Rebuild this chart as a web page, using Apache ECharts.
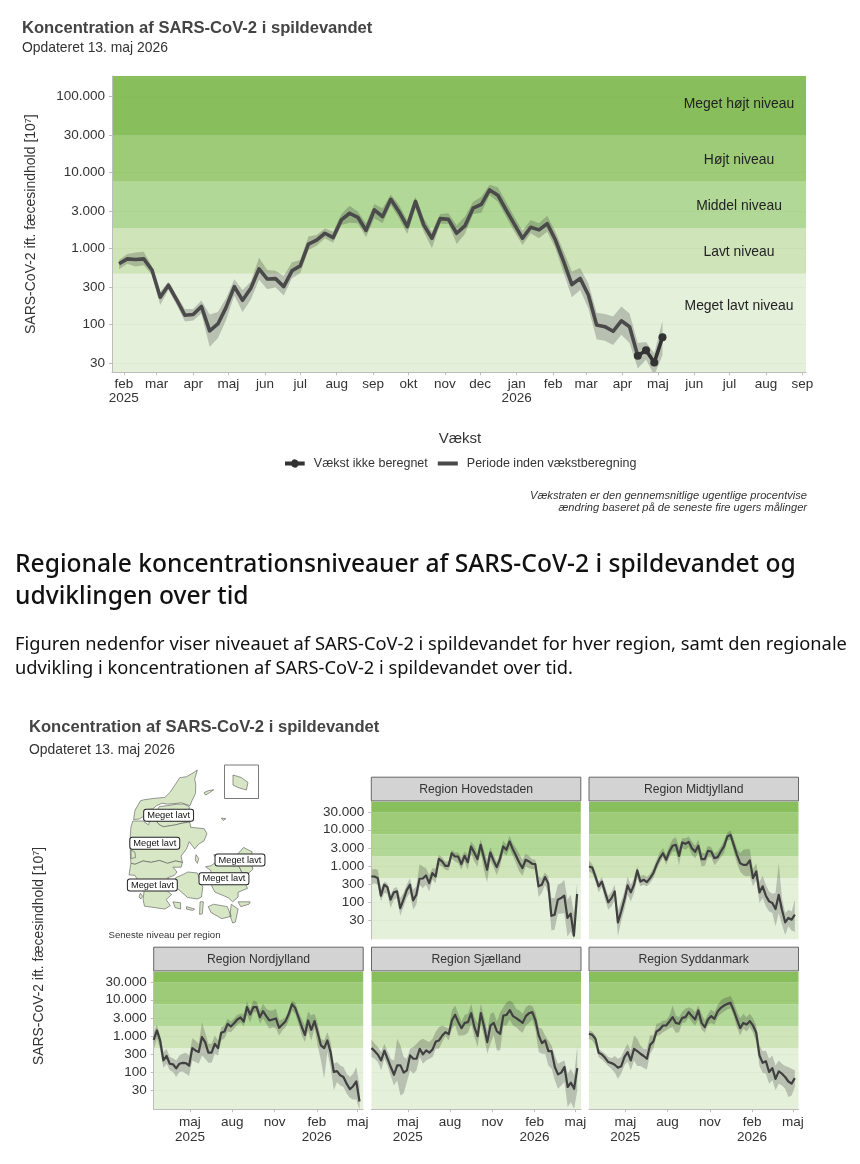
<!DOCTYPE html>
<html><head><meta charset="utf-8">
<style>html,body{margin:0;padding:0;background:#fff}#c{width:860px;height:1164px}</style>
<script src="https://cdn.jsdelivr.net/npm/echarts@6/dist/echarts.min.js"></script>
</head><body><div id="c"></div>
<script>
// ---------- data ----------
const monthNames = ['jan','feb','mar','apr','maj','jun','jul','aug','sep','okt','nov','dec'];
const yTicksMain = [30,100,300,1000,3000,10000,30000,100000];
const yTicksRegion = [30,100,300,1000,3000,10000,30000];
const bandLimits = [459,1830,7450,30000];
const levelNames = ['Meget lavt niveau','Lavt niveau','Middel niveau','Højt niveau','Meget højt niveau'];
const mainMonthTicks = ['2025-02-01','2025-03-01','2025-04-01','2025-05-01','2025-06-01','2025-07-01','2025-08-01','2025-09-01','2025-10-01','2025-11-01','2025-12-01','2026-01-01','2026-02-01','2026-03-01','2026-04-01','2026-05-01','2026-06-01','2026-07-01','2026-08-01','2026-09-01'];
const mainYearTicks = ['2025-02-01','2026-01-01'];
const regionMonthTicks = ['2025-05-01','2025-08-01','2025-11-01','2026-02-01','2026-05-01'];
const regionYearTicks = ['2025-05-01','2026-02-01'];

const mainValues = [620,718,703,718,512,225,323,208,130,133,170,81,100,165,310,205,295,530,390,395,310,500,580,1120,1270,1560,1370,2340,2860,2530,1700,3160,2580,4370,3000,1910,4100,2010,1340,2430,2380,1560,1950,3330,3750,5800,4950,3160,2060,1340,1870,1730,2090,1270,660,330,398,240,97,92,80,110,92,38,45,31,67];
const mainHigh = [696,835,870,890,570,265,360,236,157,157,204,133,144,218,387,280,360,745,512,500,426,650,696,1410,1480,1815,1635,2800,3600,3000,2110,3800,3330,5050,3680,2340,4700,2450,1635,2800,2860,1985,2580,4060,4700,6780,6310,4060,2580,1680,2340,2110,2660,1635,900,490,545,340,140,135,125,170,137,56,58,41,110];
const mainLow = [525,620,570,590,440,178,280,178,108,111,137,50,65,113,236,144,208,380,286,304,236,398,465,940,1070,1340,1170,2010,2150,2110,1380,2450,2110,3680,2450,1530,3330,1635,990,2080,2080,1130,1530,2800,2900,4950,4060,2580,1635,1090,1560,1340,1635,990,465,225,280,160,63,60,53,72,56,26,34,21,39];

const hovedValues = [505,505,455,148,298,257,115,183,195,67,115,208,298,110,157,437,445,540,330,625,505,1560,1320,1000,1000,2230,1810,1810,1110,1890,1260,3440,2340,1530,3820,1700,775,2340,1410,920,1530,3440,2770,4730,2900,1890,1240,860,1470,1320,1140,1110,270,298,486,330,41,44,115,127,148,36,47,11.5,165];
const hovedHigh = [775,810,775,240,365,330,157,240,257,127,175,298,455,217,270,1110,960,860,560,860,860,2010,1740,1320,1320,2770,2340,2340,1740,2490,2010,4730,3590,2230,5480,2770,1470,3290,2010,1320,2230,5040,3820,6780,4240,3080,2150,1470,2150,1890,1530,1470,505,455,655,505,127,127,298,330,410,115,157,49,330];
const hovedLow = [298,330,298,103,175,168,67,115,127,41,72,127,175,60,83,298,240,298,195,410,330,1060,960,775,743,1630,1320,1180,775,1320,775,2230,1320,960,2340,775,345,1410,920,560,960,2340,1890,3080,1890,1180,695,530,960,860,810,775,136,175,298,168,16,17,47,47,49,11,15,9.3,75];

const midtValues = [960,900,505,270,365,183,97,127,195,27,54,115,286,183,298,743,365,410,353,455,625,1060,1630,2230,1470,2490,3590,3820,1890,4440,4070,4620,3080,2440,3590,1530,1530,2610,2490,1630,1740,2490,3440,6480,7200,3820,2010,1180,1060,1060,1410,455,695,183,270,148,103,93,63,157,60,27,36,32,44];
const midtHigh = [1410,1110,695,365,486,270,148,195,298,54,103,195,505,298,455,960,530,560,486,600,860,1470,2340,3080,2010,3590,5480,6220,3290,5840,5840,6480,4730,3590,5260,2340,2230,3590,3290,2230,2490,3440,5040,8400,9500,5840,3080,2230,2770,2900,2900,810,1180,365,530,298,195,168,175,1180,127,49,60,54,115];
const midtLow = [695,625,365,183,257,115,60,75,110,11.5,29,60,157,103,175,455,270,298,270,330,455,775,1180,1740,1060,1740,2490,2490,1060,3080,2770,3290,2010,1630,2340,960,1000,1740,1740,1060,1320,1740,2230,5040,5260,2490,1180,695,560,505,530,270,410,93,127,75,54,49,21,49,23,12,21,16,14.6];

const nordValues = [775,1410,743,208,275,168,162,125,168,178,175,148,455,393,353,920,668,340,340,600,455,1210,1320,2150,1810,2230,2840,3220,2490,6220,3900,6220,6220,3290,4830,3520,2660,2840,3020,1670,2060,2550,4070,7540,5960,3290,1810,1060,2660,1470,2550,1210,540,455,743,353,99,105,80,72,47,33,40,54,15];
const nordHigh = [1210,2010,1020,353,437,257,240,208,286,318,340,286,860,743,600,2390,1260,600,600,1020,743,1740,1930,2960,2490,3080,3820,4070,4070,8900,5600,9500,8900,5040,7690,5600,5040,5040,5600,2660,2840,3290,5370,9500,8200,4730,2960,1930,4730,3660,4070,2150,826,743,1260,668,168,187,151,136,89,72,89,136,42];
const nordLow = [420,826,420,127,168,110,99,72,99,103,89,77,208,187,168,286,231,178,178,318,286,743,860,1320,1260,1560,2010,2340,1850,3820,2340,4530,4530,2150,3080,2150,1560,1740,1630,1020,1410,1740,2660,5040,4070,2150,1060,668,1410,743,1560,540,208,64,353,136,31,52,42,38,25,19,17,17,8.6];

const sjaelValues = [455,375,298,208,385,231,136,83,151,151,95,110,286,231,231,437,305,393,340,420,695,743,1020,1260,1110,2660,3820,2390,1630,2280,2390,4240,1740,980,4240,1810,668,1930,2280,1320,1140,3660,3820,5150,3520,3080,2660,2280,3520,4240,4530,2660,1020,625,743,375,375,136,85,95,136,38,50,34,127];
const sjaelHigh = [790,600,486,353,600,375,231,208,826,540,257,231,437,486,600,743,826,743,668,826,1320,1740,1930,1740,1630,5040,6920,4070,2490,3820,4070,7690,3290,2150,7690,3290,1410,4070,4530,2490,4530,6220,8550,9500,8200,5600,5040,4070,6220,7100,6630,4530,1740,1560,1020,743,540,286,168,187,208,89,122,80,540];
const sjaelLow = [257,231,187,110,231,145,77,42,58,22,25,52,110,89,110,257,168,208,231,257,437,437,668,980,743,1560,2010,1020,1020,1060,1210,2150,920,486,2150,920,318,600,1060,393,393,1930,1930,2840,1930,1740,1410,1210,1930,2280,2840,1410,353,318,318,151,122,58,34,42,52,10.6,14.6,9.5,31];

const syddValues = [1140,1060,826,340,305,245,187,175,157,130,142,257,353,208,437,375,318,275,231,560,695,1320,1500,1930,1930,2490,3290,2280,2150,3150,3290,4530,3520,2840,5040,2280,1740,2840,3520,2960,4730,5960,6920,7690,8200,5040,2840,1630,2280,2060,2550,1930,1210,286,178,198,99,127,64,103,89,72,54,47,67];
const syddHigh = [1410,1320,1020,437,375,318,257,240,275,231,257,420,600,393,1020,826,540,437,437,1020,1020,2150,2280,2660,2660,3660,6920,3660,3290,4730,5600,6220,5600,4530,6920,4070,2660,4070,5370,4530,7100,9500,11100,11800,12700,8550,4730,3080,4070,3290,4070,3080,1930,540,375,393,231,286,151,208,168,145,136,122,110];
const syddLow = [826,743,540,257,220,178,145,122,95,64,89,151,195,110,208,145,145,127,117,318,437,980,1060,1260,1410,1630,1740,1210,1260,2280,2390,3290,2390,1930,2840,1500,1210,2010,2280,2010,3290,4070,4730,5370,5840,3520,1740,1020,1560,1320,1740,1210,668,145,95,89,47,58,31,47,42,34,20,22,38];

const regionNames = ['Region Hovedstaden','Region Midtjylland','Region Nordjylland','Region Sjælland','Region Syddanmark'];
const mapLevelLabel = 'Meget lavt';
const mapLabelPoints = [[9.54,56.80],[9.03,56.22],[12.17,55.87],[11.58,55.48],[8.94,55.35]];

// simplified outlines of the regions, lon/lat
const nordjyllandShape = [
 [[10.6,57.74],[10.5,57.55],[10.54,57.44],[10.53,57.25],[10.4,57.1],[10.33,57.0],[10.0,57.06],[9.9,57.05],[9.5,57.03],[9.3,57.05],[9.1,57.0],[8.95,56.93],[8.75,56.92],[8.62,56.78],[8.45,56.72],[8.25,56.71],[8.3,56.9],[8.5,57.1],[8.62,57.12],[9.0,57.15],[9.4,57.17],[9.6,57.28],[9.95,57.58],[10.2,57.6],[10.5,57.7]],
 [[10.3,56.98],[10.32,56.66],[10.0,56.63],[9.8,56.6],[9.35,56.56],[9.2,56.6],[9.02,56.72],[9.05,56.85],[9.2,56.98],[9.5,57.0],[9.85,57.03],[10.1,57.03]],
 [[8.72,56.9],[8.9,56.8],[8.8,56.66],[8.62,56.72]],
 [[10.85,57.27],[11.0,57.31],[11.2,57.33],[11.0,57.25],[10.9,57.22]],
 [[11.48,56.74],[11.65,56.73],[11.55,56.69]]
];
const midtjyllandShape = [
 [[8.22,56.68],[8.45,56.68],[8.6,56.68],[8.8,56.6],[8.95,56.85],[9.02,56.72],[9.2,56.6],[9.35,56.56],[9.8,56.6],[10.0,56.63],[10.32,56.66],[10.35,56.55],[10.85,56.52],[10.95,56.42],[10.85,56.27],[10.65,56.2],[10.5,56.1],[10.3,56.25],[10.2,56.1],[10.0,55.95],[10.05,55.82],[9.8,55.85],[9.5,55.8],[9.2,55.86],[8.9,55.82],[8.6,55.85],[8.3,55.78],[8.15,55.8],[8.13,56.0],[8.12,56.3],[8.15,56.55]],
 [[10.55,55.98],[10.65,55.9],[10.6,55.8],[10.52,55.87]]
];
const ringkoebingHole = [[8.15,55.9],[8.16,56.08],[8.3,56.03],[8.32,55.92]];
const syddanmarkShape = [
 [[8.15,55.8],[8.3,55.78],[8.6,55.85],[8.9,55.82],[9.2,55.86],[9.5,55.8],[9.8,55.85],[10.05,55.82],[10.0,55.72],[9.7,55.72],[9.85,55.62],[9.75,55.55],[9.5,55.5],[9.7,55.35],[9.5,55.22],[9.65,55.15],[9.45,55.05],[9.6,54.92],[9.4,54.85],[8.65,54.91],[8.6,55.05],[8.65,55.3],[8.4,55.45],[8.3,55.55],[8.08,55.56]],
 [[9.7,55.0],[9.98,54.98],[9.98,54.85],[9.78,54.88]],
 [[9.8,55.5],[10.08,55.57],[10.25,55.62],[10.6,55.6],[10.8,55.3],[10.75,55.1],[10.6,55.06],[10.24,55.09],[9.92,55.25],[9.75,55.33]],
 [[10.7,55.0],[10.82,55.0],[10.78,54.75],[10.68,54.74]],
 [[10.2,54.9],[10.5,54.85],[10.42,54.82],[10.2,54.85]],
 [[8.4,55.45],[8.46,55.35],[8.38,55.38]],
 [[8.5,55.18],[8.58,55.12],[8.52,55.06],[8.45,55.1]]
];
const sjaellandShape = [
 [[11.13,55.33],[11.25,55.2],[11.6,55.12],[11.75,55.08],[11.9,55.0],[12.1,55.1],[12.1,55.2],[12.45,55.28],[12.35,55.4],[12.2,55.47],[12.25,55.6],[12.15,55.72],[12.05,55.78],[12.05,55.88],[12.0,55.75],[11.92,55.75],[11.9,55.95],[11.75,55.95],[11.45,55.95],[11.2,55.98],[11.35,55.85],[11.1,55.75],[10.9,55.73],[11.1,55.65],[11.1,55.5]],
 [[11.0,54.9],[11.2,54.95],[11.7,54.9],[11.85,54.7],[11.5,54.65],[11.1,54.78]],
 [[11.85,54.95],[12.1,54.85],[12.0,54.58],[11.9,54.56],[11.8,54.72]],
 [[12.1,55.0],[12.55,55.0],[12.5,54.95],[12.2,54.9]]
];
const hovedstadenShape = [
 [[12.02,55.95],[12.3,56.13],[12.62,56.04],[12.55,55.85],[12.65,55.68],[12.5,55.6],[12.25,55.6],[12.15,55.72],[12.05,55.78],[12.05,55.88]]
];
const bornholmShape = [[14.7,55.3],[14.95,55.25],[15.15,55.15],[15.1,55.0],[14.85,55.05],[14.7,55.1]];

// ---------- helpers ----------
const ms = s => +new Date(s + 'T00:00:00');
const DAY = 86400000;
function weekList(start, n){ const out=[]; for(let i=0;i<n;i++) out.push(new Date(ms(start)+i*7*DAY).setHours(0,0,0,0)); return out; }
const mainWeeks = weekList('2025-01-28', mainValues.length);
const regionWeeks = weekList('2025-02-11', hovedValues.length);
const FONT = '"Liberation Sans", Arial, sans-serif';
const BAND_COLORS = ['#E5F0DB','#CFE4B8','#B2D898','#9DCB78','#88BF5C'];
const TEXT = '#333333';
const AXIS = '#BDBDBD';

const grids=[], xAxes=[], yAxes=[], series=[], graphics=[];
function T(text,x,y,o){ graphics.push({type:'text',silent:true,z:20,style:Object.assign({text,x,y,fontFamily:FONT,fontSize:12,fill:TEXT,verticalAlign:'middle',align:'left'},o||{})}); }

function addPanel(cfg){
  const g = grids.length;
  grids.push({left:cfg.left,top:cfg.top,width:cfg.width,height:cfg.height,containLabel:false});
  const ticks = cfg.months.map(ms), years = cfg.years.map(ms);
  xAxes.push({type:'value',scale:true,gridIndex:g,min:ms(cfg.xMin),max:ms(cfg.xMax),z:3,splitLine:{show:false},
    axisLine:{show:cfg.showX,onZero:false,lineStyle:{color:AXIS,width:1}},
    axisTick:{show:cfg.showX,length:3,customValues:ticks,lineStyle:{color:AXIS}},
    axisLabel:{show:cfg.showX,customValues:ticks,hideOverlap:false,showMinLabel:true,showMaxLabel:true,margin:cfg.xMargin,
      color:TEXT,fontFamily:FONT,fontSize:13.5,lineHeight:cfg.xLine,align:'center',
      formatter:v=>{const d=new Date(v);const m=monthNames[d.getMonth()];return years.indexOf(+v)>=0?m+'\n'+d.getFullYear():m;}}});
  yAxes.push(Object.assign({type:'log',logBase:10,gridIndex:g,min:cfg.yMin,max:cfg.yMax,z:3,splitLine:{show:false},minorTick:{show:false},
    axisLine:{show:cfg.showY,onZero:false,lineStyle:{color:AXIS,width:1}},
    axisTick:{show:cfg.showY,length:3,customValues:cfg.yTicks,lineStyle:{color:AXIS}},
    axisLabel:{show:cfg.showY,customValues:cfg.yTicks,margin:7,color:TEXT,fontFamily:FONT,fontSize:13.5,hideOverlap:false,
      formatter:v=>Math.round(v).toString().replace(/\B(?=(\d{3})+$)/g,'.')}},cfg.yExtra||{}));
  const limits=[cfg.yMin].concat(bandLimits,[cfg.yMax]);
  series.push({type:'line',name:'niveau'+g,xAxisIndex:g,yAxisIndex:g,data:[[cfg.weeks[0],cfg.values[0]]],symbol:'none',lineStyle:{opacity:0},silent:true,z:1,
    markArea:{silent:true,z:1,data:BAND_COLORS.map((c,i)=>[{yAxis:limits[i],itemStyle:{color:c}},{yAxis:limits[i+1]}])},
    markLine:{silent:true,z:1,symbol:'none',label:{show:false},lineStyle:{color:'rgba(90,130,60,0.05)',width:1,type:'solid'},data:cfg.yTicks.map(v=>({yAxis:v}))}});
  series.push({type:'custom',name:'usikkerhed'+g,xAxisIndex:g,yAxisIndex:g,coordinateSystem:'cartesian2d',clip:true,silent:true,z:3,
    data:cfg.weeks.map((w,i)=>[w,cfg.low[i],cfg.high[i]]),encode:{x:0,y:[1,2]},
    renderItem:(p,api)=>{ if(p.dataIndex!==0) return null;
      const upper=cfg.weeks.map((w,i)=>api.coord([w,cfg.high[i]]));
      const lower=cfg.weeks.map((w,i)=>api.coord([w,cfg.low[i]])).reverse();
      return {type:'polygon',shape:{points:upper.concat(lower)},style:{fill:'rgba(50,50,50,0.25)'}}; }});
  return g;
}

// main chart
const g0 = addPanel({left:112,top:76,width:694,height:296.3,xMin:'2025-01-22',xMax:'2026-09-04',yMin:23.1,yMax:183000,yTicks:yTicksMain,
  months:mainMonthTicks,years:mainYearTicks,showX:true,showY:true,xMargin:5,xLine:14,weeks:mainWeeks,values:mainValues,low:mainLow,high:mainHigh,
  yExtra:{name:'SARS-CoV-2 ift. fæcesindhold [10{s|7}]',nameLocation:'middle',nameGap:74,nameRotate:90,
    nameTextStyle:{color:TEXT,fontFamily:FONT,fontSize:14,rich:{s:{fontSize:9,fontFamily:FONT,color:TEXT,verticalAlign:'top',lineHeight:14}}}}});
const mainSplit = 63;
series.push({type:'line',name:'Periode inden vækstberegning',xAxisIndex:g0,yAxisIndex:g0,symbol:'none',z:5,silent:true,
  lineStyle:{color:'#4A4A4A',width:3.6,join:'round'},itemStyle:{color:'#4A4A4A'},
  data:mainWeeks.slice(0,mainSplit+1).map((w,i)=>[w,mainValues[i]])});
series.push({type:'line',name:'Vækst ikke beregnet',xAxisIndex:g0,yAxisIndex:g0,symbol:'circle',symbolSize:8,showSymbol:true,z:6,silent:true,
  lineStyle:{color:'#333333',width:3.6},itemStyle:{color:'#333333'},
  data:mainWeeks.slice(mainSplit).map((w,i)=>[w,mainValues[mainSplit+i]])});

// region panels
const rowTop=[801.7,971.7], PH=137.5, PW=209.5;
const regionPanels=[
 {n:0,left:371.3,row:0,showX:false,showY:true,values:hovedValues,low:hovedLow,high:hovedHigh},
 {n:1,left:589,row:0,showX:false,showY:false,values:midtValues,low:midtLow,high:midtHigh},
 {n:2,left:153.7,row:1,showX:true,showY:true,values:nordValues,low:nordLow,high:nordHigh},
 {n:3,left:371.5,row:1,showX:true,showY:false,values:sjaelValues,low:sjaelLow,high:sjaelHigh},
 {n:4,left:589,row:1,showX:true,showY:false,values:syddValues,low:syddLow,high:syddHigh}];
regionPanels.forEach(r=>{
  const g=addPanel({left:r.left,top:rowTop[r.row],width:PW,height:PH,xMin:'2025-02-11',xMax:'2026-05-13',yMin:9.2,yMax:60000,yTicks:yTicksRegion,
    months:regionMonthTicks,years:regionYearTicks,showX:r.showX,showY:r.showY,xMargin:6,xLine:15,weeks:regionWeeks,values:r.values,low:r.low,high:r.high});
  series.push({type:'line',name:regionNames[r.n],xAxisIndex:g,yAxisIndex:g,symbol:'none',z:5,silent:true,
    lineStyle:{color:'#404040',width:2.2,join:'round'},data:regionWeeks.map((w,i)=>[w,r.values[i]])});
  const st=rowTop[r.row]-24.5;
  graphics.push({type:'rect',silent:true,z:10,shape:{x:r.left,y:st,width:PW,height:23.7},style:{fill:'#D3D3D3',stroke:'#666666',lineWidth:1}});
  T(regionNames[r.n],r.left+PW/2,st+12.5,{align:'center',fontSize:12.2});
});

// level names, titles, notes
const levelX=739;
[[306,0],[252.5,1],[206,2],[160.5,3],[104.5,4]].forEach(p=>T(levelNames[p[1]],levelX,p[0],{align:'center',fontSize:13.9,fill:'#222222'}));
T('Koncentration af SARS-CoV-2 i spildevandet',22,28,{fontWeight:'bold',fontSize:16.6,fill:'#444444'});
T('Opdateret 13. maj 2026',22,48,{fontSize:13.9});
T('Vækst',460,438.5,{align:'center',fontSize:15});
T('Vækstraten er den gennemsnitlige ugentlige procentvise',807,495.5,{align:'right',fontSize:11.1,fontStyle:'italic'});
T('ændring baseret på de seneste fire ugers målinger',807,507.5,{align:'right',fontSize:11.1,fontStyle:'italic'});
const HF='"Noto Sans", Lato, sans-serif';
T('Regionale koncentrationsniveauer af SARS-CoV-2 i spildevandet og',15,565,{fontFamily:HF,fontWeight:500,fontSize:24.6,fill:'#111111'});
T('udviklingen over tid',15,597,{fontFamily:HF,fontWeight:500,fontSize:24.6,fill:'#111111'});
T('Figuren nedenfor viser niveauet af SARS-CoV-2 i spildevandet for hver region, samt den regionale',15,645,{fontFamily:HF,fontSize:18.3,fill:'#111111'});
T('udvikling i koncentrationen af SARS-CoV-2 i spildevandet over tid.',15,669,{fontFamily:HF,fontSize:18.3,fill:'#111111'});
T('Koncentration af SARS-CoV-2 i spildevandet',29,727,{fontWeight:'bold',fontSize:16.6,fill:'#444444'});
T('Opdateret 13. maj 2026',29,750,{fontSize:13.9});
T('Seneste niveau per region',164.5,935,{align:'center',fontSize:9.6});
graphics.push({type:'text',silent:true,z:20,x:39,y:956,rotation:Math.PI/2,style:{text:'SARS-CoV-2 ift. fæcesindhold [10{s|7}]',x:0,y:0,align:'center',verticalAlign:'middle',fontFamily:FONT,fontSize:13.9,fill:TEXT,rich:{s:{fontSize:9,fontFamily:FONT,fill:TEXT,verticalAlign:'top',lineHeight:14}}}});
graphics.push({type:'rect',silent:true,z:2,shape:{x:224.5,y:765,width:34,height:33.5},style:{fill:'none',stroke:'#7A7A7A',lineWidth:1}});

// maps
const feat=(name,polys)=>({type:'Feature',properties:{name},geometry:{type:'MultiPolygon',coordinates:polys.map(p=>Array.isArray(p[0][0])?p:[p])}});
echarts.registerMap('danmark',{type:'FeatureCollection',features:[
  feat('Nordjylland',nordjyllandShape),
  feat('Midtjylland',[[midtjyllandShape[0],ringkoebingHole],midtjyllandShape[1]]),
  feat('Syddanmark',syddanmarkShape),
  feat('Sjælland',sjaellandShape),
  feat('Hovedstaden',hovedstadenShape)]});
echarts.registerMap('bornholm',{type:'FeatureCollection',features:[feat('Hovedstaden',[bornholmShape])]});
const geoStyle={silent:true,roam:false,aspectScale:0.559,label:{show:false},
  itemStyle:{areaColor:'#D7E7C6',borderColor:'#555555',borderWidth:0.6},emphasis:{disabled:true}};
series.push({type:'scatter',coordinateSystem:'geo',geoIndex:0,silent:true,z:8,symbolSize:1,itemStyle:{color:'rgba(0,0,0,0)',opacity:1},data:mapLabelPoints,
  label:{show:true,position:'inside',formatter:mapLevelLabel,backgroundColor:'#ffffff',borderColor:'#222222',borderWidth:1,borderRadius:2,padding:[1,3,1,3],fontSize:9.3,fontFamily:FONT,color:'#111111'}});

const ICON_DOT='path://M0,2H6.5A4,4 0 0,1 13.5,2H20V6H13.5A4,4 0 0,1 6.5,6H0Z';
const ICON_BAR='path://M0,0L0.01,0M0,2H20V6H0ZM19.99,8L20,8';
const chart=echarts.init(document.getElementById('c'),null,{renderer:'canvas',width:860,height:1164});
chart.setOption({animation:false,backgroundColor:'#ffffff',textStyle:{fontFamily:FONT},
  tooltip:{show:false},
  legend:{show:true,left:285,top:457,padding:0,orient:'horizontal',itemWidth:20,itemHeight:8,itemGap:10,selectedMode:false,
    data:[{name:'Vækst ikke beregnet',icon:ICON_DOT},{name:'Periode inden vækstberegning',icon:ICON_BAR}],
    textStyle:{color:TEXT,fontFamily:FONT,fontSize:12.5,padding:[0,0,0,4]}},
  grid:grids,xAxis:xAxes,yAxis:yAxes,series,
  geo:[Object.assign({map:'danmark',left:129,top:770,width:124,height:153},geoStyle),
       Object.assign({map:'bornholm',left:233,top:775,width:15,height:15},geoStyle)],
  graphic:{elements:graphics}});
</script></body></html>
